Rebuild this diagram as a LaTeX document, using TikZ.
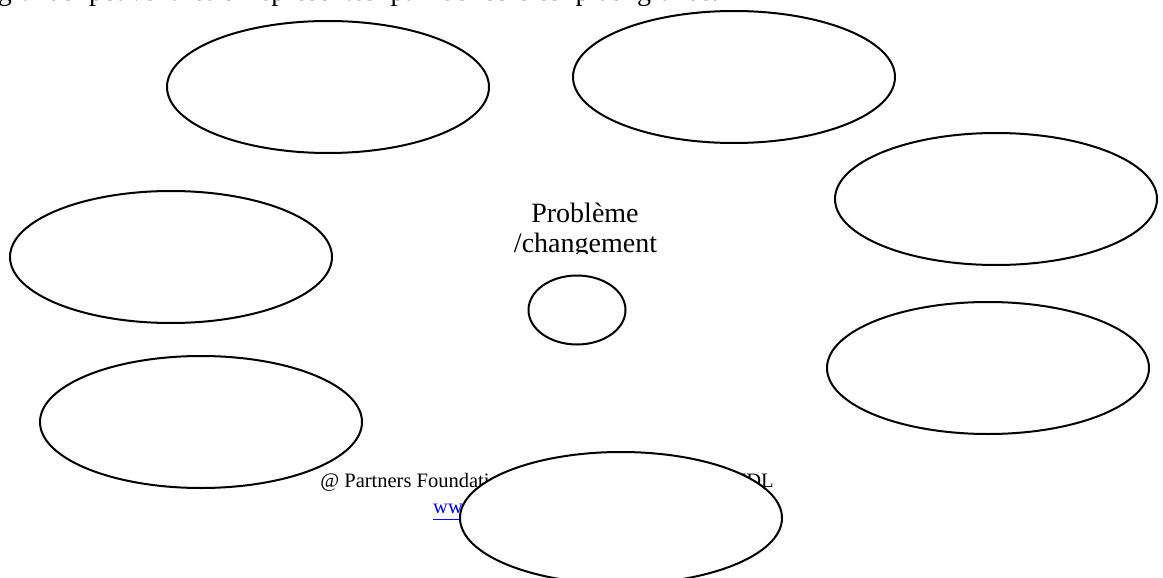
\documentclass[tikz,border=0pt]{standalone}
\usepackage{fontspec}
\setmainfont{Liberation Serif}
\usetikzlibrary{shapes.geometric}
\begin{document}
\begin{tikzpicture}[x=1pt,y=-1pt,
  bubble/.style={ellipse, draw=black, fill=white, line width=2pt, inner sep=0pt,
    minimum width=322pt, minimum height=132pt},
  core/.style={ellipse, draw=black, fill=white, line width=2pt, inner sep=0pt,
    minimum width=97pt, minimum height=69pt},
  bodytext/.style={inner sep=0pt, font=\fontsize{28}{30}\selectfont},
  foottext/.style={inner sep=0pt, font=\fontsize{20.5}{23}\selectfont}]
\useasboundingbox (0,0) rectangle (1163,578);
\clip (0,0) rectangle (1163,578);

% running text of the page above the figure (justified line)
\node[bodytext, anchor=base east] (intro) at (719,0.5)
  {\spaceskip=15pt grande peuvent être représentés par de cercles plus grands.};

% central label, cut off by its text frame
\begin{scope}
  \clip (0,0) rectangle (1163,253.5);
  \node[bodytext, anchor=base] (lbl1) at (585,222) {Problème};
  \node[bodytext, anchor=base] (lbl2) at (585.5,252) {/changement};
\end{scope}

% page footer
\node[foottext, anchor=base] (foot1) at (547,487)
  {@ Partners Foundation for Local Development - PFDL};
\node[foottext, anchor=base west, text=blue] (foot2) at (433,513)
  {\underline{www.fpdl.ro}};

% bubbles around the problem
\node[bubble] (b1) at (328,87) {};
\node[bubble] (b2) at (734,77) {};
\node[bubble] (b3) at (996,199) {};
\node[bubble] (b4) at (171,257) {};
\node[core]   (c)  at (577,310) {};
\node[bubble] (b5) at (988,368) {};
\node[bubble] (b6) at (201,422) {};
\node[bubble] (b7) at (621,518) {};
\end{tikzpicture}
\end{document}
